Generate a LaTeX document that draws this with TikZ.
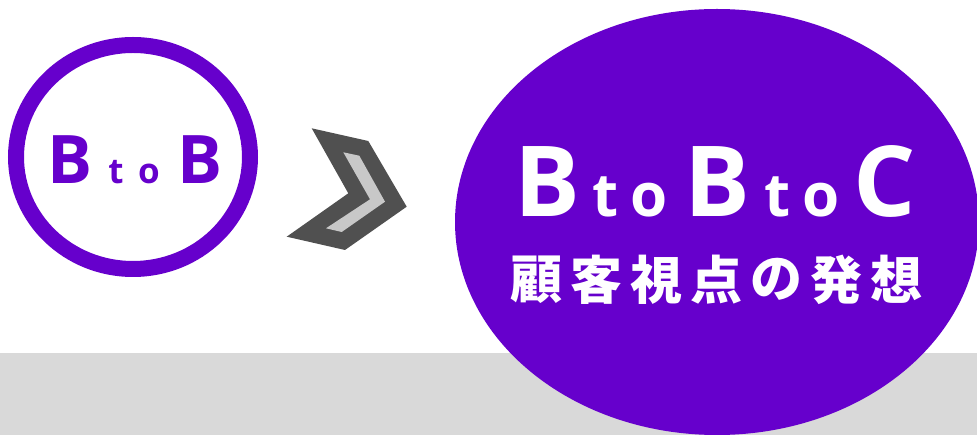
\documentclass[tikz,border=0pt]{standalone}
\usepackage{fontspec}
\newfontfamily\latinfont{Open Sans}
\newfontfamily\cjkfont{Noto Sans CJK JP}
\usetikzlibrary{positioning}
\definecolor{brandpurple}{HTML}{6600CC}
\definecolor{bandgray}{HTML}{D9D9D9}
\definecolor{chevdark}{HTML}{505050}
\definecolor{chevlight}{HTML}{C8C8C8}
\tikzset{
  bigletter/.style={anchor=base, inner sep=0pt, text=white, font=\latinfont\bfseries\fontsize{98}{98}\selectfont},
  bigsmall/.style={anchor=base, inner sep=0pt, text=white, font=\latinfont\bfseries\fontsize{60}{60}\selectfont},
  leftletter/.style={anchor=base, inner sep=0pt, text=brandpurple, font=\latinfont\bfseries\fontsize{67}{67}\selectfont},
  leftsmall/.style={anchor=base, inner sep=0pt, text=brandpurple, font=\latinfont\bfseries\fontsize{35}{35}\selectfont},
  kanji/.style={anchor=center, inner sep=0pt, text=white, font=\cjkfont\bfseries\fontsize{52}{52}\selectfont}
}

\begin{document}
\begin{tikzpicture}[x=1pt,y=-1pt]
  \useasboundingbox (0,0) rectangle (977,435);
  % background band
  \fill[bandgray] (0,353) rectangle (977,435);
  % left ring
  \draw[brandpurple, line width=16pt] (133,157) ellipse [x radius=117, y radius=112];
  \node[leftletter] (lb1) at (70,184)  {B};
  \node[leftsmall]  (lt)  at (116,184) {t};
  \node[leftsmall]  (lo)  at (149,184) {o};
  \node[leftletter] (lb2) at (200,184) {B};
  % chevron
  \fill[chevdark] (311.7,128.3) -- (368.3,141) -- (406.7,206.7) -- (345,250)
    -- (286.7,236.7) -- (348.3,193.3) -- cycle;
  \fill[chevlight] (343.3,152.3) -- (359.3,155.7) -- (385,201.7) -- (341.7,232)
    -- (326,228.3) -- (370,199.3) -- cycle;
  % big ellipse
  \fill[brandpurple] (717,222) ellipse [x radius=262, y radius=213];
  \node[bigletter] (bb1) at (547.5,217) {B};
  \node[bigsmall]  (bt1) at (606,217)   {t};
  \node[bigsmall]  (bo1) at (649,217)   {o};
  \node[bigletter] (bb2) at (717.5,217) {B};
  \node[bigsmall]  (bt2) at (777.5,217) {t};
  \node[bigsmall]  (bo2) at (821,217)   {o};
  \node[bigletter] (bc)  at (885,217)   {C};
  \foreach \ch [count=\i] in {顧,客,視,点,の,発,想}
    \node[kanji] (k\i) at ({536+(\i-1)*60.1},279.5) {\ch};
\end{tikzpicture}
\end{document}
